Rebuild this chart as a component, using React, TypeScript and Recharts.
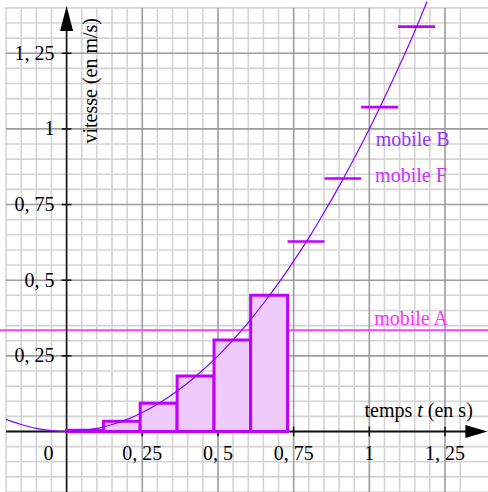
import React from "react";
import {
  ComposedChart,
  Line,
  XAxis,
  YAxis,
  ReferenceLine,
  ReferenceArea,
  ReferenceDot,
} from "recharts";

// speed curve v(t) (mobile B)
const curveT = [
  -0.2, -0.15, -0.1, -0.05, 0, 0.05, 0.1, 0.15, 0.2, 0.25, 0.3, 0.35, 0.4, 0.45,
  0.5, 0.55, 0.6, 0.65, 0.7, 0.75, 0.8, 0.85, 0.9, 0.95, 1, 1.05, 1.1, 1.15, 1.19,
];
const curveV = [
  0.04, 0.023, 0.01, 0.003, 0, 0.003, 0.01, 0.023, 0.04, 0.063, 0.09, 0.123, 0.16,
  0.203, 0.25, 0.303, 0.36, 0.423, 0.49, 0.563, 0.64, 0.723, 0.81, 0.903, 1.0,
  1.103, 1.21, 1.323, 1.42,
];

// shaded strips under the curve
const stripStart = [0, 0.122, 0.243, 0.365, 0.487, 0.608];
const stripEnd = [0.122, 0.243, 0.365, 0.487, 0.608, 0.73];
const stripV = [0.004, 0.034, 0.093, 0.183, 0.302, 0.45];

// mobile F steps (no fill)
const stepStart = [0.73, 0.852, 0.973, 1.095];
const stepEnd = [0.852, 0.973, 1.095, 1.217];
const stepV = [0.628, 0.836, 1.072, 1.338];

// mobile A constant speed
const mobileA = 0.335;

const axisTicks = [0.25, 0.5, 0.75, 1, 1.25];
const tickLabels = ["0, 25", "0, 5", "0, 75", "1", "1, 25"];

const W = 488;
const H = 492;
const FONT = "'Liberation Serif', 'Times New Roman', serif";
const FS = 20;

const PURPLE = "#8a00ff";
const VIOLET = "#c000ff";
const MAGENTA = "#ff40ff";

const gridX = Array.from({ length: 31 }, (_, i) => Math.round((-0.2 + i * 0.05) * 100) / 100);
const gridY = Array.from({ length: 33 }, (_, i) => Math.round((-0.2 + i * 0.05) * 100) / 100);
const isMajor = (v: number) => Math.abs(v / 0.25 - Math.round(v / 0.25)) < 1e-6 && Math.abs(v) > 1e-6;

const data = curveT.map((t, i) => ({ t, v: curveV[i] }));

const textAt =
  (s: React.ReactNode, dx: number, dy: number, anchor: string, color = "#000") =>
  (p: any) =>
    (
      <text
        x={p.cx + dx}
        y={p.cy + dy}
        textAnchor={anchor}
        fill={color}
        fontFamily={FONT}
        fontSize={FS}
      >
        {s}
      </text>
    );

export default function App() {
  return (
    <div style={{ position: "absolute", left: 0, top: 0, width: W, height: H, background: "#fff" }}>
      <ComposedChart width={W} height={H} data={data} margin={{ top: 0, right: 0, bottom: 0, left: 0 }}>
        <XAxis type="number" dataKey="t" domain={[-0.22, 1.392]} hide allowDataOverflow />
        <YAxis type="number" domain={[-0.2, 1.426]} hide allowDataOverflow />

        {gridX.map((x) => (
          <ReferenceLine
            key={"gx" + x}
            ifOverflow="visible"
            segment={[{ x, y: -0.2 }, { x, y: 1.4 }]}
            stroke={isMajor(x) ? "#9c9c9c" : "#d4d4d4"}
            strokeWidth={1.6}
            zIndex={isMajor(x) ? 2 : 1}
          />
        ))}
        {gridY.map((y) => (
          <ReferenceLine
            key={"gy" + y}
            ifOverflow="visible"
            segment={[{ x: -0.2, y }, { x: 1.392, y }]}
            stroke={isMajor(y) ? "#9c9c9c" : "#d4d4d4"}
            strokeWidth={1.6}
            zIndex={isMajor(y) ? 2 : 1}
          />
        ))}

        <ReferenceLine
          ifOverflow="visible"
          segment={[{ x: -0.22, y: mobileA }, { x: 1.392, y: mobileA }]}
          stroke={MAGENTA}
          strokeWidth={1.6}
          zIndex={3}
        />

        {/* axes */}
        <ReferenceLine
          ifOverflow="visible"
          segment={[{ x: -0.2, y: 0 }, { x: 1.33, y: 0 }]}
          stroke="#111"
          strokeWidth={2}
          zIndex={4}
        />
        <ReferenceLine
          ifOverflow="visible"
          segment={[{ x: 0, y: -0.2 }, { x: 0, y: 1.33 }]}
          stroke="#111"
          strokeWidth={1.6}
          zIndex={4}
        />
        {axisTicks.map((v) => (
          <ReferenceLine
            key={"tx" + v}
            ifOverflow="visible"
            segment={[{ x: v, y: -0.016 }, { x: v, y: 0.016 }]}
            stroke="#111"
            strokeWidth={1.6}
            zIndex={4}
          />
        ))}
        {axisTicks.map((v) => (
          <ReferenceLine
            key={"ty" + v}
            ifOverflow="visible"
            segment={[{ x: -0.016, y: v }, { x: 0.016, y: v }]}
            stroke="#111"
            strokeWidth={1.6}
            zIndex={4}
          />
        ))}

        {stripStart.map((x1, i) => (
          <ReferenceArea
            key={"s" + i}
            x1={x1}
            x2={stripEnd[i]}
            y1={0}
            y2={stripV[i]}
            ifOverflow="visible"
            fill="#eecbfa"
            fillOpacity={1}
            stroke={VIOLET}
            strokeWidth={3}
            zIndex={5}
          />
        ))}

        <Line
          type="monotone"
          dataKey="v"
          stroke={PURPLE}
          strokeWidth={1.2}
          dot={false}
          activeDot={false}
          isAnimationActive={false}
          zIndex={6}
        />

        {stepStart.map((x1, i) => (
          <ReferenceLine
            key={"f" + i}
            ifOverflow="visible"
            segment={[{ x: x1, y: stepV[i] }, { x: stepEnd[i], y: stepV[i] }]}
            stroke={VIOLET}
            strokeWidth={2.6}
            zIndex={7}
          />
        ))}

        {/* arrow heads */}
        <ReferenceDot
          x={0}
          y={1.406}
          ifOverflow="visible"
          zIndex={8}
          shape={(p: any) => (
            <polygon
              points={`${p.cx},${p.cy} ${p.cx - 6.5},${p.cy + 25} ${p.cx + 6.5},${p.cy + 25}`}
              fill="#000"
            />
          )}
        />
        <ReferenceDot
          x={1.39}
          y={0}
          ifOverflow="visible"
          zIndex={8}
          shape={(p: any) => (
            <polygon
              points={`${p.cx},${p.cy} ${p.cx - 22},${p.cy - 6.5} ${p.cx - 22},${p.cy + 6.5}`}
              fill="#000"
            />
          )}
        />

        {/* tick labels */}
        {axisTicks.map((v, i) => (
          <ReferenceDot
            key={"ly" + v}
            x={0}
            y={v}
            ifOverflow="visible"
            zIndex={9}
            shape={textAt(tickLabels[i], -12, 6.5, "end")}
          />
        ))}
        {axisTicks.map((v, i) => (
          <ReferenceDot
            key={"lx" + v}
            x={v}
            y={0}
            ifOverflow="visible"
            zIndex={9}
            shape={textAt(tickLabels[i], 0, 28.5, "middle")}
          />
        ))}
        <ReferenceDot x={0} y={0} ifOverflow="visible" zIndex={9} shape={textAt("0", -18, 28.5, "middle")} />

        {/* titles */}
        <ReferenceDot
          x={0.099}
          y={1.159}
          ifOverflow="visible"
          zIndex={9}
          shape={(p: any) => (
            <text
              transform={`translate(${p.cx}, ${p.cy}) rotate(-90)`}
              textAnchor="middle"
              fontFamily={FONT}
              fontSize={FS}
              fill="#000"
            >
              vitesse (en m/s)
            </text>
          )}
        />
        <ReferenceDot
          x={0.984}
          y={0.049}
          ifOverflow="visible"
          zIndex={9}
          shape={textAt(
            <>
              temps <tspan fontStyle="italic">t</tspan> (en s)
            </>,
            0,
            0,
            "start"
          )}
        />

        {/* series labels */}
        <ReferenceDot x={1.021} y={0.944} ifOverflow="visible" zIndex={9} shape={textAt("mobile B", 0, 0, "start", "#9a30ff")} />
        <ReferenceDot x={1.019} y={0.826} ifOverflow="visible" zIndex={9} shape={textAt("mobile F", 0, 0, "start", "#cc30ff")} />
        <ReferenceDot x={1.016} y={0.352} ifOverflow="visible" zIndex={9} shape={textAt("mobile A", 0, 0, "start", "#ff30ff")} />
      </ComposedChart>
    </div>
  );
}
